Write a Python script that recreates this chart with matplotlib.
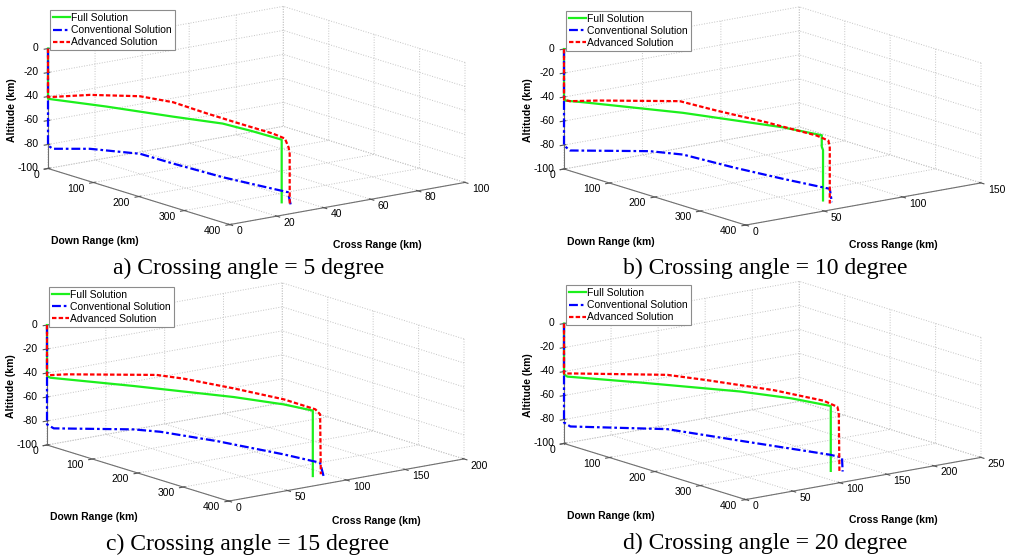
import matplotlib
matplotlib.use("Agg")
import matplotlib.pyplot as plt
from mpl_toolkits.mplot3d import proj3d

# trajectories (down range, cross range, altitude in km)
full_dr_5 = [0, 0, 100, 214, 299, 350, 396, 400, 400]
full_cr_5 = [0, 0, 5.5, 11.8, 16.5, 19.3, 21.8, 22.1, 22.1]
full_alt_5 = [0, -41.9, -38.6, -35.9, -33.4, -34.8, -36.7, -37.0, -89.2]
conv_dr_5 = [0, 0, 8, 69, 152, 206, 288, 370, 395, 400]
conv_cr_5 = [0, 0, 0.5, 4.5, 9.9, 13.4, 18.7, 24.1, 25.7, 26.0]
conv_alt_5 = [0, -80.8, -82.8, -77.1, -73.5, -76.5, -80.2, -82.1, -82.6, -93.2]
adv_dr_5 = [0, 0, 20, 70, 152, 207, 263, 317, 372, 392, 398, 400, 400]
adv_cr_5 = [0, 0, 1.3, 4.4, 9.7, 13.2, 16.8, 20.2, 23.7, 25.0, 25.4, 25.5, 25.5]
adv_alt_5 = [0, -40.6, -38.1, -32.0, -25.4, -25.2, -29.3, -32.6, -35.7, -38.0, -44.7, -50.0, -93.1]

full_dr_10 = [0, 0, 2, 30, 184, 340, 400, 400, 400, 400]
full_cr_10 = [0, 0, 0.2, 3.6, 22.4, 41.2, 48.5, 48.5, 49.3, 49.3]
full_alt_10 = [0, -40.2, -42.8, -41.7, -36.9, -35.2, -36.5, -46.0, -49.0, -91.0]
conv_dr_10 = [0, 0, 9, 128, 178, 252, 327, 397, 400]
conv_cr_10 = [0, 0, 1.2, 17.6, 24.4, 34.6, 44.9, 54.5, 54.9]
conv_alt_10 = [0, -80.4, -83.8, -74.3, -72.9, -77.2, -80.5, -82.9, -93.8]
adv_dr_10 = [0, 0, 9, 54, 174, 230, 305, 380, 398, 400, 400]
adv_cr_10 = [0, 0, 1.2, 7.2, 23.4, 30.8, 40.8, 50.9, 53.3, 53.6, 53.6]
adv_alt_10 = [0, -42.3, -42.7, -38.3, -28.6, -31.7, -35.0, -39.6, -42.3, -48.0, -94.6]

full_dr_15 = [0, 0, 5, 130, 281, 356, 400, 400]
full_cr_15 = [0, 0, 0.9, 23.3, 50.2, 63.6, 71.5, 71.5]
full_alt_15 = [0, -42.5, -43.5, -39.7, -36.0, -35.7, -37.1, -91.7]
conv_dr_15 = [0, 0, 10, 125, 164, 246, 342, 395, 400]
conv_cr_15 = [0, 0, 1.9, 25.2, 33.0, 49.5, 68.9, 79.6, 80.6]
conv_alt_15 = [0, -82.8, -85.3, -76.8, -75.6, -76.7, -79.9, -82.6, -93.2]
adv_dr_15 = [0, 0, 29, 160, 200, 272, 346, 392, 399, 400]
adv_cr_15 = [0, 0, 5.7, 31.4, 39.1, 53.3, 67.7, 76.7, 78.1, 78.3]
adv_alt_15 = [0, -41.9, -38.7, -28.4, -28.2, -30.3, -33.4, -37.9, -41.5, -91.4]

full_dr_20 = [0, 0, 5, 115, 264, 340, 400, 400]
full_cr_20 = [0, 0, 1.1, 25.9, 59.8, 76.7, 90.4, 90.4]
full_alt_20 = [0, -42.2, -43.8, -39.4, -34.2, -33.3, -34.7, -88.8]
conv_dr_20 = [0, 0, 9, 148, 253, 382, 399, 400]
conv_cr_20 = [0, 0, 2.4, 38.2, 65.2, 98.5, 102.8, 103.0]
conv_alt_20 = [0, -82.5, -85.1, -76.1, -77.3, -78.6, -79.5, -91.1]
adv_dr_20 = [0, 0, 14, 150, 208, 305, 377, 397, 399, 400]
adv_cr_20 = [0, 0, 3.6, 37.4, 51.8, 75.9, 93.9, 98.8, 99.4, 99.6]
adv_alt_20 = [0, -41.7, -40.5, -30.5, -30.2, -30.6, -33.5, -36.9, -41.7, -91.4]

dr_ticks = [0, 100, 200, 300, 400]
alt_ticks = [-100, -80, -60, -40, -20, 0]
cr_ticks_5 = [0, 20, 40, 60, 80, 100]
cr_ticks_10 = [0, 50, 100, 150]
cr_ticks_15 = [0, 50, 100, 150, 200]
cr_ticks_20 = [0, 50, 100, 150, 200, 250]
series_labels = ["Full Solution", "Conventional Solution", "Advanced Solution"]

plt.rcParams['font.family'] = ['Liberation Sans', 'DejaVu Sans']
plt.rcParams['axes.unicode_minus'] = False
plt.rcParams['grid.color'] = '#c4c4c4'
plt.rcParams['grid.linestyle'] = ':'
plt.rcParams['grid.linewidth'] = 0.7
plt.rcParams['xtick.color'] = '#555555'
plt.rcParams['ytick.color'] = '#555555'
plt.rcParams['xtick.labelcolor'] = 'black'
plt.rcParams['ytick.labelcolor'] = 'black'

W, H = 1014, 558
fig = plt.figure(figsize=(W / 100, H / 100), dpi=100)


def place(ax, cr_max, x0, y100, width=417):
    # shift/scale the square 3d axes so the floor corners land where the reference has them
    fig.canvas.draw()

    def to_px(x, y, z):
        u, v, _ = proj3d.proj_transform(x, y, z, ax.M)
        return ax.transData.transform((u, v))

    pl = to_px(0, 0, -100)
    pr = to_px(400, cr_max, -100)
    bb = ax.get_position().transformed(fig.transFigure)
    s = bb.width
    cx, cy = bb.x0 + s / 2, bb.y0 + bb.height / 2
    qx, qy = (pl[0] - cx) / s, (pl[1] - cy) / s
    s2 = s * width / (pr[0] - pl[0])
    cx2 = x0 - s2 * qx
    cy2 = (H - y100) - s2 * qy
    ax.set_position([(cx2 - s2 / 2) / W, (cy2 - s2 / 2) / H, s2 / W, s2 / H])


def panel(full, conv, adv, cr_max, cr_ticks, caption, ox, oy):
    ax = fig.add_axes([ox / W, 1 - (oy + 270) / H, 490 / W, 270 / H],
                      projection='3d', proj_type='ortho')
    ax.set_facecolor((1, 1, 1, 0))
    ax.view_init(elev=13.6, azim=-37.3)
    ax.set_box_aspect((300, 296, 123.5))

    l1, = ax.plot(full[0], full[1], full[2], color='#1cf01c', lw=1.6)
    l2, = ax.plot(conv[0], conv[1], conv[2], color='#0000ff', lw=1.6,
                  dashes=(4, 1.3, 1.2, 1.3))
    l3, = ax.plot(adv[0], adv[1], adv[2], color='#ff0000', lw=1.6,
                  dashes=(2, 1))

    ax.set_xlim(0, 400)
    ax.set_ylim(0, cr_max)
    ax.set_zlim(-100, 0)
    ax.set_xticks(dr_ticks)
    ax.set_yticks(cr_ticks)
    ax.set_zticks(alt_ticks)
    ax.tick_params(labelsize=7.5, pad=-2)
    ax.zaxis.set_tick_params(pad=-4.5)
    ax.zaxis.set_ticks_position('lower')
    ax.zaxis.set_label_position('lower')
    # MATLAB-like label anchoring
    for axis, ha in ((ax.xaxis, 'right'), (ax.yaxis, 'left'), (ax.zaxis, 'right')):
        for t in axis.get_major_ticks():
            t.label1.set_horizontalalignment(ha)
            t.label1.set_verticalalignment('center')

    for axis in (ax.xaxis, ax.yaxis, ax.zaxis):
        axis.set_pane_color((1, 1, 1, 0))
        axis.pane.set_edgecolor('#d0d0d0')
        axis.line.set_color('#707070')
        axis.line.set_linewidth(0.8)

    place(ax, cr_max, ox + 48, oy + 168.5)
    place(ax, cr_max, ox + 48, oy + 168.5)

    leg = ax.legend([l1, l2, l3], series_labels, loc='upper left',
                    bbox_to_anchor=((ox + 50) / W, 1 - (oy + 10) / H),
                    bbox_transform=fig.transFigure, fontsize=7.5,
                    fancybox=False, framealpha=1, edgecolor='#8c8c8c',
                    borderaxespad=0, borderpad=0.3, labelspacing=0.2,
                    handlelength=1.6, handletextpad=0.15)
    leg.get_frame().set_linewidth(0.8)

    fig.text((ox + 12) / W, 1 - (oy + 110) / H, "Altitude (km)", rotation=90,
             ha='center', va='center', fontsize=7.5, fontweight='bold')
    fig.text((ox + 95) / W, 1 - (oy + 241) / H, "Down Range (km)",
             ha='center', va='center', fontsize=7.5, fontweight='bold')
    fig.text((ox + 377) / W, 1 - (oy + 245) / H, "Cross Range (km)",
             ha='center', va='center', fontsize=7.5, fontweight='bold')
    fig.text((ox + 249) / W, 1 - (oy + 268) / H, caption, ha='center',
             va='center', fontsize=17, family='Liberation Serif')


panel((full_dr_5, full_cr_5, full_alt_5), (conv_dr_5, conv_cr_5, conv_alt_5),
      (adv_dr_5, adv_cr_5, adv_alt_5), 100, cr_ticks_5,
      "a) Crossing angle = 5 degree", 0, 0)
panel((full_dr_10, full_cr_10, full_alt_10), (conv_dr_10, conv_cr_10, conv_alt_10),
      (adv_dr_10, adv_cr_10, adv_alt_10), 150, cr_ticks_10,
      "b) Crossing angle = 10 degree", 516, 0.5)
panel((full_dr_15, full_cr_15, full_alt_15), (conv_dr_15, conv_cr_15, conv_alt_15),
      (adv_dr_15, adv_cr_15, adv_alt_15), 200, cr_ticks_15,
      "c) Crossing angle = 15 degree", -1, 276.5)
panel((full_dr_20, full_cr_20, full_alt_20), (conv_dr_20, conv_cr_20, conv_alt_20),
      (adv_dr_20, adv_cr_20, adv_alt_20), 250, cr_ticks_20,
      "d) Crossing angle = 20 degree", 516, 275)

fig.savefig("out.png", dpi=100)
